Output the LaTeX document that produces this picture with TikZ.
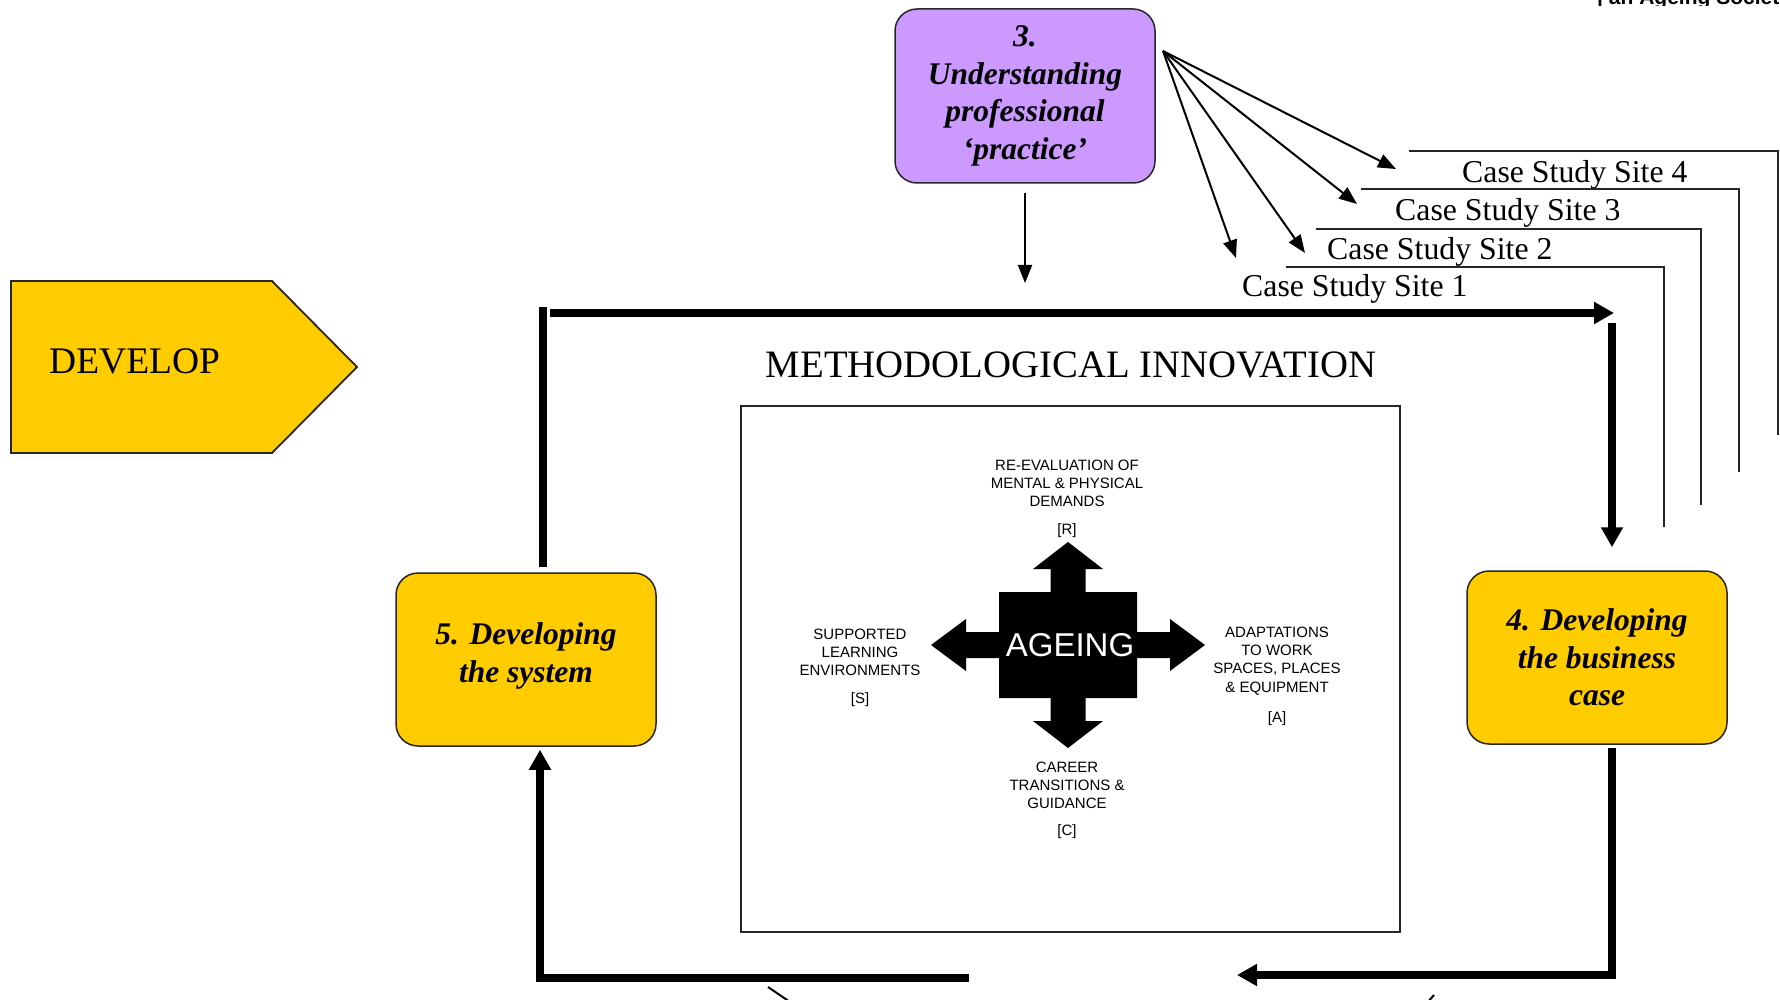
\documentclass[tikz,border=0pt]{standalone}
\usepackage{fontspec}
\setmainfont{Liberation Serif}
\setsansfont{Liberation Sans}
\usetikzlibrary{arrows.meta}
\definecolor{gold}{HTML}{FFCC00}
\definecolor{lilac}{HTML}{CC99FF}
\definecolor{ink}{HTML}{262626}

\begin{document}
\begin{tikzpicture}[x=1pt, y=-1pt, line join=miter,
	box/.style={draw=ink, line width=1.5pt, rounded corners=22pt, minimum width=260pt, minimum height=173pt, inner sep=0pt, align=center, font=\fontsize{31.5}{37.5}\selectfont\bfseries\itshape},
	band/.style={line width=8.5pt, -{Triangle[length=20pt,width=21pt]}},
	pin/.style={line width=2pt, -{Triangle[length=18pt,width=14pt]}},
	rule/.style={draw=ink, line width=1.4pt},
	site/.style={anchor=base west, inner sep=0pt, font=\fontsize{31.8}{31.8}\selectfont},
	tag/.style={anchor=north, inner sep=0pt, align=center, font=\sffamily\fontsize{15}{18.3}\selectfont}]
	\useasboundingbox (0,0) rectangle (1780,1000);
	\clip (0,0) rectangle (1780,1000);
	% cut-off header
	\begin{scope}
		\clip (1590,0) rectangle (1780,6);
		\node [anchor=base west, inner sep=0pt, font=\sffamily\bfseries\fontsize{21}{21}\selectfont] (hdr) at (1597,5) {| an Ageing Society};
	\end{scope}
	%
	\draw [fill=gold, draw=ink, line width=1.8pt] (11,281) -- (272,281) -- (357,367) -- (272,453) -- (11,453) -- cycle;
	\node [anchor=base west, inner sep=0pt, font=\fontsize{37.5}{37.5}\selectfont] (dev) at (49,373) {DEVELOP};
	%
	\node [box, fill=lilac, minimum height=174pt] (prac) at (1025,96) {3.\\Understanding\\professional\\`practice'};
	\node [box, fill=gold] (bus) at (1597,657.5) {4. Developing\\the business\\case};
	\node [box, fill=gold, text depth=14pt] (sys) at (526,659.5) {5. Developing\\the system};
	%
	\node [anchor=base, inner sep=0pt, font=\fontsize{38.8}{38.8}\selectfont] (meth) at (1071,377) {METHODOLOGICAL INNOVATION};
	\node [draw=ink, line width=1.5pt, minimum width=659pt, minimum height=526pt, inner sep=0pt] (frame) at (1070.5,669) {};
	%
	\begin{scope}[shift={(1068,645)}]
		\fill (0,-103) -- (35,-76) -- (17.5,-76) -- (17.5,-53) -- (69,-53) -- (69,-13) -- (102,-13) -- (102,-26) -- (137,0)
		-- (102,26) -- (102,13) -- (69,13) -- (69,53) -- (17.5,53) -- (17.5,76) -- (35,76) -- (0,103)
		-- (-35,76) -- (-17.5,76) -- (-17.5,53) -- (-69,53) -- (-69,13) -- (-102,13) -- (-102,26) -- (-137,0)
		-- (-102,-26) -- (-102,-13) -- (-69,-13) -- (-69,-53) -- (-17.5,-53) -- (-17.5,-76) -- (-35,-76) -- cycle;
	\end{scope}
	\node [text=white, inner sep=0pt, font=\sffamily\fontsize{33}{33}\selectfont] (age) at (1070,645) {AGEING};
	%
	\node [tag] (tr) at (1067,459.6) {RE-EVALUATION OF\\MENTAL \& PHYSICAL\\DEMANDS\\[9.7pt]{[R]}};
	\node [tag] (ts) at (860,628.6) {SUPPORTED\\LEARNING\\ENVIRONMENTS\\[9.7pt]{[S]}};
	\node [tag] (ta) at (1277,626.6) {ADAPTATIONS\\TO WORK\\SPACES, PLACES\\\& EQUIPMENT\\[11.7pt]{[A]}};
	\node [tag] (tc) at (1067,761.6) {CAREER\\TRANSITIONS \&\\GUIDANCE\\[8.7pt]{[C]}};
	%
	\node [site] (s4) at (1462,183) {Case Study Site 4};
	\node [site] (s3) at (1395,221) {Case Study Site 3};
	\node [site] (s2) at (1327,260) {Case Study Site 2};
	\node [site] (s1) at (1242,297) {Case Study Site 1};
	\draw [rule] (1409,151) -- (1778,151) -- (1778,435)
		(1361,189) -- (1739,189) -- (1739,472)
		(1316,229) -- (1701,229) -- (1701,505)
		(1286,267) -- (1664,267) -- (1664,527);
	%
	\coordinate (fan) at (1163,51);
	\coordinate (t1) at (1236,258);
	\coordinate (t2) at (1305,253);
	\coordinate (t3) at (1357,204);
	\coordinate (t4) at (1396,169);
	\foreach \t in {t1,t2,t3,t4} \draw [pin] (fan) -- (\t);
	\coordinate (pd) at (1025,283);
	\draw [pin] ([yshift=-9pt]prac.south) -- (pd);
	%
	\coordinate (nw) at (543,307);
	\coordinate (na) at (550,313);
	\coordinate (ne) at (1614,313);
	\coordinate (nb) at (1612,323);
	\coordinate (se) at (1612,975);
	\coordinate (sa) at (1237,975);
	\coordinate (sb) at (969,978);
	\coordinate (sw) at (540,978);
	\draw [line width=8.5pt] ([xshift=17pt,yshift=5pt]sys.north) -- (nw);
	\draw [band] (na) -- (ne);
	\draw [band] (nb) -- ([xshift=15pt,yshift=23pt]bus.north);
	\draw [band] ([xshift=15pt,yshift=-3pt]bus.south) -- (se) -- (sa);
	\draw [band] (sb) -- (sw) -- ([xshift=14pt,yshift=-3pt]sys.south);
	\draw [line width=2pt] (768,987) -- (790,1002) (1434,995) -- (1427,1003);
\end{tikzpicture}
\end{document}
